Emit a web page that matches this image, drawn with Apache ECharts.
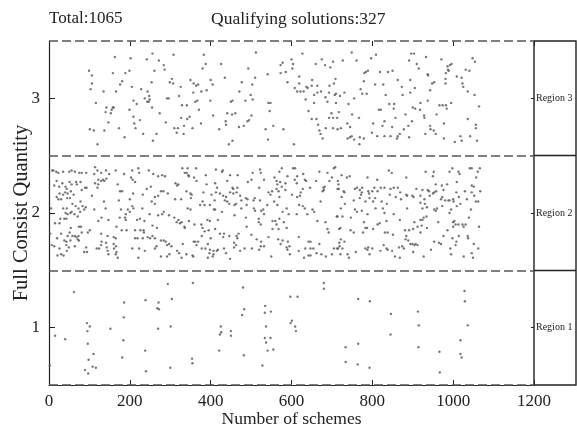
<!DOCTYPE html>
<html><head><meta charset="utf-8">
<script src="https://cdn.jsdelivr.net/npm/echarts@6/dist/echarts.min.js"></script>
<style>html,body{margin:0;padding:0;background:#fff}#c{width:577px;height:430px}</style>
</head><body><div id="c"></div>
<script>
// ---------- data ----------
const headerTexts = ['Total:1065', 'Qualifying solutions:327'];
const xAxisName = 'Number of schemes';
const yAxisName = 'Full Consist Quantity';
const yTickValues = [1, 2, 3];
const regionLabels = ['Region 1', 'Region 2', 'Region 3'];
const regionBounds = [0.5, 1.5, 2.5, 3.5];
const regionDividers = [1.5, 2.5];

// Region 1 (quantity 1)
const region1 = [[2,0.67],[15,0.93],[40,0.90],[62,1.31],[89,0.63],[94,1.04],[101,1.01],[95,0.97],[96,0.86],[97,0.60],[98,0.72],[110,0.77],[108,0.66],[116,0.65],[152,0.99],[186,1.22],[185,1.09],[184,0.89],[181,0.74],[239,1.24],[238,0.80],[240,0.62],[271,1.22],[268,1.17],[272,1.16],[294,1.38],[304,1.25],[270,0.99],[301,1.01],[300,0.65],[356,1.39],[354,0.73],[355,0.69],[480,1.35],[483,1.16],[478,1.11],[425,1.01],[426,0.96],[423,0.94],[450,0.97],[450,0.93],[421,0.80],[482,0.76],[535,1.19],[549,1.14],[534,1.13],[537,1.01],[534,0.91],[548,0.91],[537,0.87],[541,0.80],[555,0.81],[528,0.67],[597,1.27],[615,1.27],[601,1.06],[598,1.04],[609,1.01],[611,0.97],[680,1.39],[680,1.34],[765,1.25],[794,1.23],[846,1.12],[845,0.94],[913,1.14],[915,1.02],[914,0.83],[734,0.83],[765,0.86],[734,0.70],[764,0.68],[793,0.65],[966,0.79],[967,0.61],[1028,1.32],[1029,1.23],[1036,1.02],[1018,0.89],[1018,0.77],[1021,0.74]];

// Region 2 (quantity 2)
const region2 = [[8,2.37],[11,2.37],[18,2.36],[23,2.35],[35,2.36],[50,2.36],[56,2.37],[64,2.36],[75,2.35],[81,2.35],[92,2.35],[114,2.40],[112,2.34],[120,2.37],[129,2.35],[141,2.37],[149,2.34],[165,2.37],[186,2.34],[206,2.37],[221,2.39],[223,2.35],[247,2.37],[258,2.34],[270,2.32],[280,2.33],[287,2.32],[330,2.39],[336,2.35],[343,2.39],[341,2.35],[345,2.33],
[19,2.28],[13,2.24],[25,2.23],[33,2.26],[41,2.23],[44,2.21],[51,2.27],[56,2.25],[67,2.27],[69,2.25],[78,2.27],[81,2.20],[89,2.22],[93,2.22],[114,2.26],[122,2.25],[122,2.29],[129,2.28],[134,2.29],[137,2.28],[120,2.22],[142,2.30],[170,2.25],[181,2.19],[203,2.31],[207,2.29],[213,2.27],[242,2.21],[252,2.23],[283,2.19],[313,2.26],[317,2.24],[320,2.25],[340,2.19],[350,2.17],[346,2.32],
[19,2.14],[23,2.12],[30,2.12],[26,2.17],[35,2.16],[40,2.18],[46,2.17],[45,2.13],[52,2.13],[54,2.19],[61,2.16],[58,2.08],[78,2.10],[83,2.06],[106,2.15],[136,2.10],[173,2.11],[176,2.19],[200,2.12],[208,2.17],[232,2.16],[262,2.14],[270,2.15],[277,2.19],[294,2.17],[312,2.12],[327,2.12],[351,2.13],[353,2.16],
[5,2.04],[35,2.04],[44,2.04],[66,2.06],[73,2.04],[77,2.01],[87,2.03],[91,2.05],[112,2.03],[140,2.04],[178,2.03],[195,2.03],[206,2.06],[200,2.01],[209,2.04],[190,1.99],[231,2.04],[254,2.10],[262,2.08],[280,1.99],[284,2.01],[297,1.98],[310,1.96],[316,1.92],[320,1.94],[324,1.91],[343,2.04],[350,2.03],[41,2.00],[46,1.99],[53,2.00],[56,2.01],[63,1.99],[71,1.97],[28,1.95],[38,1.95],[43,1.95],[130,1.96],[147,1.94],[175,1.96],[188,1.96],[190,1.94],[218,1.94],[225,1.95],[236,1.93],[249,1.99],[270,1.98],[328,1.92],[346,1.93],
[15,1.91],[26,1.91],[54,1.87],[74,1.88],[79,1.88],[101,1.85],[122,1.93],[167,1.88],[180,1.85],[192,1.85],[213,1.85],[226,1.85],[234,1.85],[235,1.83],[256,1.89],[267,1.87],[335,1.88],[336,1.87],[3,1.82],[30,1.82],[46,1.80],[51,1.83],[58,1.80],[64,1.80],[68,1.79],[73,1.80],[81,1.83],[96,1.83],[129,1.82],[145,1.80],[160,1.79],[165,1.78],[213,1.78],[219,1.78],[232,1.78],[244,1.79],[250,1.78],[256,1.80],[262,1.78],[277,1.76],[284,1.76],[289,1.75],
[20,1.78],[38,1.76],[43,1.75],[53,1.76],[71,1.77],[74,1.76],[130,1.75],[141,1.74],[129,1.72],[143,1.70],[160,1.73],[166,1.71],[7,1.72],[13,1.71],[26,1.69],[43,1.72],[49,1.70],[64,1.71],[92,1.70],[118,1.69],[124,1.69],[145,1.67],[161,1.69],[167,1.66],[206,1.69],[223,1.69],[237,1.67],[262,1.69],[266,1.71],[292,1.72],[297,1.73],[303,1.71],[317,1.67],[322,1.65],[331,1.73],[358,1.75],[21,1.63],[30,1.64],[36,1.63],[87,1.66],[94,1.66],[147,1.64],[165,1.64],[170,1.61],[221,1.61],[277,1.62],[292,1.62],[298,1.64],[328,1.61],[340,1.64],[355,1.63],[44,1.67],
[364,2.39],[413,2.38],[428,2.36],[430,2.37],[388,2.33],[448,2.33],[467,2.33],[504,2.35],[524,2.35],[522,2.38],[570,2.36],[576,2.39],[604,2.39],[609,2.39],[629,2.34],[614,2.32],[669,2.36],[689,2.35],[708,2.40],[705,2.39],
[359,2.31],[365,2.28],[390,2.25],[411,2.26],[416,2.22],[441,2.28],[454,2.22],[456,2.21],[466,2.22],[492,2.27],[501,2.29],[520,2.22],[532,2.29],[558,2.31],[563,2.28],[565,2.25],[572,2.27],[576,2.23],[585,2.26],[590,2.32],[608,2.29],[613,2.26],[628,2.21],[633,2.29],[636,2.28],[661,2.28],[682,2.23],[679,2.22],[694,2.28],[700,2.31],[715,2.28],[717,2.21],
[382,2.18],[402,2.16],[413,2.18],[423,2.17],[431,2.15],[435,2.11],[438,2.14],[441,2.10],[448,2.18],[456,2.17],[464,2.18],[473,2.15],[476,2.11],[487,2.13],[491,2.12],[506,2.11],[509,2.13],[522,2.11],[543,2.18],[548,2.16],[552,2.19],[563,2.21],[568,2.19],[570,2.14],[585,2.20],[601,2.16],[614,2.14],[621,2.15],[623,2.18],[646,2.22],[677,2.19],[680,2.20],
[374,2.07],[380,2.10],[385,2.07],[398,2.07],[410,2.11],[408,2.03],[411,2.03],[428,2.01],[446,2.08],[459,2.07],[463,2.08],[476,2.04],[489,2.07],[507,2.04],[510,2.02],[525,2.02],[530,2.03],[540,2.07],[557,2.10],[565,2.07],[578,2.01],[588,2.04],[593,1.99],[613,1.99],[619,2.07],[628,2.06],[633,2.04],[639,1.99],[652,2.03],[656,2.01],[672,2.10],[712,1.97],[459,1.98],[487,1.96],[519,1.95],[532,1.99],[570,1.95],[553,1.93],[560,1.93],[581,1.92],[563,1.90],
[392,1.94],[398,1.93],[418,1.94],[360,1.90],[377,1.90],[380,1.87],[385,1.84],[395,1.85],[411,1.86],[423,1.82],[431,1.79],[433,1.82],[446,1.80],[469,1.82],[489,1.88],[501,1.81],[519,1.92],[524,1.90],[543,1.79],[553,1.86],[568,1.86],[588,1.87],[664,1.93],[684,1.92],[689,1.86],[692,1.83],[618,1.79],[718,1.86],
[378,1.80],[464,1.80],[466,1.78],[362,1.75],[369,1.75],[365,1.72],[393,1.73],[400,1.78],[378,1.69],[387,1.69],[398,1.68],[407,1.67],[415,1.67],[418,1.68],[397,1.65],[407,1.64],[405,1.62],[433,1.69],[438,1.65],[458,1.74],[463,1.72],[458,1.70],[484,1.69],[502,1.69],[514,1.77],[525,1.75],[520,1.68],[524,1.71],[532,1.71],[567,1.77],[578,1.76],[573,1.73],[591,1.75],[588,1.70],[590,1.68],[595,1.71],[596,1.64],[618,1.67],[634,1.69],[642,1.75],[647,1.75],[647,1.69],[654,1.69],[669,1.73],[662,1.65],[674,1.64],[685,1.62],[700,1.64],[705,1.69],[715,1.69],[718,1.74],[357,1.62],[393,1.61],[448,1.60],[473,1.67],[550,1.62],[631,1.61],[642,1.63],[647,1.63],
[724,2.33],[737,2.31],[744,2.32],[788,2.31],[812,2.29],[841,2.37],[848,2.35],[884,2.31],[932,2.36],[952,2.36],[950,2.32],[991,2.36],[998,2.39],[1013,2.36],[1016,2.34],[1041,2.39],[1046,2.39],[1061,2.36],[1066,2.39],
[716,2.25],[714,2.21],[729,2.19],[731,2.18],[757,2.21],[762,2.22],[769,2.20],[774,2.18],[775,2.22],[790,2.19],[792,2.17],[800,2.19],[805,2.22],[813,2.19],[821,2.22],[830,2.22],[845,2.21],[853,2.22],[863,2.22],[869,2.18],[884,2.16],[899,2.15],[909,2.21],[924,2.20],[937,2.20],[940,2.19],[957,2.25],[958,2.19],[972,2.24],[976,2.20],[985,2.25],[1009,2.27],[1008,2.18],[1029,2.19],[1046,2.24],[1051,2.23],[1057,2.31],[1067,2.19],
[724,2.14],[732,2.08],[754,2.11],[769,2.13],[772,2.16],[783,2.10],[793,2.13],[807,2.13],[802,2.10],[823,2.10],[836,2.08],[843,2.16],[858,2.14],[871,2.12],[886,2.15],[902,2.14],[919,2.15],[929,2.12],[930,2.08],[942,2.15],[950,2.17],[953,2.18],[970,2.12],[973,2.14],[980,2.11],[988,2.11],[991,2.11],[1000,2.12],[1001,2.10],[1014,2.14],[1018,2.08],[1034,2.12],[1046,2.18],[1052,2.15],[1056,2.10],[1062,2.10],
[722,2.04],[757,2.03],[762,2.01],[774,2.02],[788,1.99],[808,2.04],[826,2.04],[830,2.00],[853,1.99],[886,2.04],[919,2.09],[924,2.04],[935,2.05],[953,2.03],[957,2.02],[960,2.04],[973,2.06],[991,2.00],[995,2.03],[1009,2.06],[1039,1.96],[1044,2.03],[714,1.97],[726,1.97],[747,1.96],
[779,1.92],[783,1.87],[813,1.90],[835,1.93],[868,1.94],[904,1.92],[919,1.94],[924,1.94],[927,1.96],[934,1.97],[912,1.88],[922,1.89],[963,1.92],[986,1.85],[1000,1.92],[1000,1.88],[1003,1.93],[1006,1.90],[1013,1.90],[1023,1.90],[1026,1.88],[1031,1.90],[1064,1.88],[721,1.87],[746,1.85],[754,1.83],[777,1.83],[787,1.87],[802,1.86],[818,1.91],[831,1.83],[838,1.83],[851,1.81],[881,1.85],[891,1.85],[901,1.86],[935,1.87],[919,1.83],
[722,1.77],[731,1.75],[719,1.71],[713,1.69],[726,1.69],[721,1.64],[739,1.64],[742,1.61],[759,1.66],[783,1.69],[788,1.68],[790,1.70],[800,1.69],[793,1.64],[820,1.67],[828,1.72],[835,1.69],[838,1.68],[849,1.67],[856,1.62],[868,1.61],[866,1.70],[874,1.71],[878,1.69],[882,1.77],[884,1.80],[889,1.76],[894,1.73],[899,1.73],[904,1.72],[907,1.73],[912,1.72],[901,1.66],[927,1.62],[945,1.68],[953,1.75],[965,1.74],[970,1.73],[976,1.80],[993,1.69],[998,1.78],[1008,1.75],[1006,1.72],[1014,1.80],[1036,1.80],[1037,1.78],[1046,1.65],[1049,1.61],[1051,1.73],[1062,1.69],[1026,1.62],[995,1.64]];

// Region 3 (quantity 3)
const region3 = [[99,3.24],[106,3.20],[106,3.13],[103,3.08],[116,2.96],[120,2.60],[101,2.73],[111,2.72],[135,3.06],[137,2.72],[142,2.92],[140,2.88],[147,2.79],[153,2.87],[155,2.90],[158,2.92],[160,2.92],[158,3.22],[163,3.36],[166,3.06],[173,2.74],[176,3.12],[181,3.15],[187,2.66],[189,3.22],[199,3.24],[202,3.35],[199,2.90],[205,3.10],[209,2.98],[209,2.84],[211,2.78],[214,2.74],[217,2.95],[225,2.81],[228,3.08],[233,2.69],[237,3.00],[242,3.34],[244,3.06],[243,2.97],[248,3.02],[249,2.99],[247,2.97],[254,3.14],[255,2.92],[256,3.39],[257,2.63],[261,3.24],[266,2.69],[272,3.33],[274,2.87],[284,3.29],[286,3.25],[289,2.79],[292,3.00],[296,3.00],[299,3.14],[304,3.17],[307,3.13],[308,3.38],[310,2.74],[316,2.70],[319,2.74],[322,3.02],[326,3.10],[327,2.83],[329,2.94],[333,2.69],[334,2.76],[341,2.94],[342,2.82],[348,2.84],[350,3.16],[355,2.74],[357,3.05],[358,3.13],[362,2.97],[364,3.11],[367,2.98],[369,3.12],[371,2.90],[376,2.78],[377,3.06],[380,3.26],[383,3.38],[388,3.30],[390,3.07],[399,2.98],[400,3.16],[405,3.12],[406,2.85],[421,2.73],[426,3.30],[435,3.18],[437,2.80],[438,2.77],[441,2.87],[445,2.60],[450,2.97],[454,2.98],[453,2.86],[454,2.63],[461,2.87],[471,3.06],[470,2.75],[477,3.14],[482,2.76],[486,2.98],[491,2.80],[493,3.26],[495,2.81],[499,3.03],[501,2.85],[503,3.12],[504,2.99],[510,3.18],[512,3.40],[536,2.73],[541,3.21],[543,2.96],[548,2.96],[546,2.89],[555,2.76],[542,2.64],[573,3.22],[573,3.29],[578,3.31],[586,3.23],[590,3.14],[580,2.73],
[600,3.34],[604,3.30],[602,3.26],[606,2.60],[627,3.39],[619,3.19],[608,3.09],[614,3.06],[619,3.13],[622,3.06],[630,3.06],[635,2.99],[637,3.10],[640,3.09],[642,2.89],[650,3.11],[651,3.16],[650,2.82],[656,2.96],[660,3.30],[656,3.03],[662,2.82],[664,3.11],[664,3.05],[673,3.06],[675,3.34],[666,2.77],[669,2.72],[672,2.69],[677,2.65],[683,3.29],[684,3.01],[685,2.74],[689,2.97],[693,3.05],[694,3.11],[696,3.27],[693,2.83],[699,2.87],[703,3.32],[703,2.83],[703,2.74],[705,3.13],[709,3.17],[710,3.04],[707,3.03],[710,2.96],[713,2.83],[717,2.88],[714,2.73],[722,2.74],[720,3.02],[727,3.33],[731,3.05],[738,2.78],[745,2.75],[741,2.95],[739,2.65],[745,2.66],[749,3.40],[750,2.86],[749,2.67],[755,2.64],[755,3.00],[761,3.33],[767,2.83],[769,2.66],[768,2.60],[771,3.08],[775,3.04],[779,2.65],[780,3.22],[779,3.15],[784,3.23],[786,3.04],[789,3.24],[797,3.35],[799,2.70],[802,2.78],[807,3.12],[809,3.38],[812,2.67],[816,2.90],[819,3.23],[821,2.90],[825,2.76],[827,3.12],[830,2.80],[830,2.67],[833,3.03],[839,3.23],[842,2.95],[845,2.67],[850,3.24],[849,2.75],[853,2.91],[854,2.95],[857,2.83],[861,2.65],[863,3.16],[863,2.67],[868,2.69],[873,3.10],[875,3.03],[878,2.73],[882,2.86],[889,2.76],[891,3.33],[894,3.16],[891,2.66],[894,3.05],[896,3.39],[903,3.39],[898,2.80],[905,3.09],[900,2.92],[906,2.91],[910,3.30],[915,3.26],[919,2.96],[918,2.90],[928,2.85],[929,2.83],[933,3.36],[931,2.69],[937,3.21],[938,3.20],[937,2.98],[943,3.07],[944,2.73],[948,3.13],[943,2.76],[953,3.14],[952,2.72],[957,2.69],[959,2.86],[966,2.94],[971,3.34],[974,2.94],[977,2.78],[977,2.65],[982,2.94],[984,2.91],[981,3.13],[981,3.17],[982,3.22],[986,3.28],[987,3.25],[989,3.24],[992,3.29],[996,3.30],[995,2.96],[1004,2.62],[1009,3.19],[1018,2.67],[1021,2.63],[1021,3.18],[1023,3.13],[1025,3.10],[1031,3.25],[1036,2.82],[1040,3.24],[1042,2.67],[1048,3.35],[1054,3.32],[1053,3.03],[1056,2.77],[1056,2.74],[1059,2.63],[1064,2.93],[1036,3.06]];

// ---------- chart ----------
const FONT = '"Liberation Serif","Times New Roman",serif';
const INK = '#222';
const chart = echarts.init(document.getElementById('c'), null, {renderer: 'canvas'});
const dotStyle = {color: '#555'};
const dashed = {type: [9, 4], color: '#555', width: 1.5};

chart.setOption({
  animation: false,
  backgroundColor: '#fff',
  title: [
    {text: headerTexts[0], left: 49, top: 10, padding: 0,
     textStyle: {fontFamily: FONT, fontSize: 17, fontWeight: 'normal', color: INK}},
    {text: headerTexts[1], left: 211, top: 10, padding: 0,
     textStyle: {fontFamily: FONT, fontSize: 17.5, fontWeight: 'normal', color: INK}}
  ],
  grid: [
    {left: 49, right: 43, top: 41, bottom: 45, outerBoundsMode: 'none', containLabel: false},
    {left: 534, right: 1, top: 41, bottom: 45, outerBoundsMode: 'none', containLabel: false,
     show: true, borderColor: INK, borderWidth: 1.4, backgroundColor: 'transparent'}
  ],
  xAxis: [
    {gridIndex: 0, type: 'value', min: 0, max: 1200, interval: 200, position: 'bottom',
     name: xAxisName, nameLocation: 'middle', nameGap: 25, nameMoveOverlap: false,
     nameTextStyle: {fontFamily: FONT, fontSize: 17.5, color: INK},
     axisLine: {show: true, onZero: false, lineStyle: {color: INK, width: 1.2}},
     axisTick: {show: true, inside: true, length: 5, lineStyle: {color: INK}},
     axisLabel: {fontFamily: FONT, fontSize: 17, color: INK, margin: 8, formatter: v => String(v)},
     splitLine: {show: false}},
    {gridIndex: 0, type: 'value', min: 0, max: 1200, interval: 200, position: 'top',
     axisLine: {show: false},
     axisTick: {show: true, inside: true, length: 5, lineStyle: {color: INK}},
     axisLabel: {show: false}, splitLine: {show: false}},
    {gridIndex: 1, type: 'value', min: 0, max: 1, show: false}
  ],
  yAxis: [
    {gridIndex: 0, type: 'value', min: 0.5, max: 3.5,
     name: yAxisName, nameLocation: 'middle', nameGap: 17, nameMoveOverlap: false,
     nameTextStyle: {fontFamily: FONT, fontSize: 20.5, color: INK},
     axisLine: {show: true, onZero: false, lineStyle: {color: INK, width: 1.2}},
     axisTick: {show: true, inside: true, length: 6, customValues: yTickValues, lineStyle: {color: INK}},
     axisLabel: {customValues: yTickValues, fontFamily: FONT, fontSize: 17, color: INK, margin: 9},
     splitLine: {show: false}},
    {gridIndex: 1, type: 'value', min: 0.5, max: 3.5, position: 'left',
     axisLine: {show: false},
     axisTick: {show: true, length: 3, customValues: yTickValues, lineStyle: {color: INK}},
     axisLabel: {inside: true, margin: 2, customValues: yTickValues,
       formatter: v => regionLabels[Math.round(v) - 1],
       fontFamily: FONT, fontSize: 10, color: INK},
     splitLine: {show: false}}
  ],
  series: [
    {name: 'Region 1', type: 'scatter', xAxisIndex: 0, yAxisIndex: 0, data: region1,
     symbolSize: 2.4, itemStyle: dotStyle, silent: true},
    {name: 'Region 2', type: 'scatter', xAxisIndex: 0, yAxisIndex: 0, data: region2,
     symbolSize: 2.4, itemStyle: dotStyle, silent: true},
    {name: 'Region 3', type: 'scatter', xAxisIndex: 0, yAxisIndex: 0, data: region3,
     symbolSize: 2.4, itemStyle: dotStyle, silent: true,
     markLine: {silent: true, symbol: ['none', 'none'], label: {show: false},
       lineStyle: dashed, data: regionBounds.map(v => ({yAxis: v}))}},
    {name: 'dividers', type: 'line', xAxisIndex: 2, yAxisIndex: 1, data: [],
     markLine: {silent: true, symbol: ['none', 'none'], label: {show: false},
       lineStyle: {type: 'solid', color: INK, width: 1.4},
       data: regionDividers.map(v => ({yAxis: v}))}}
  ]
});
</script>
</body></html>
